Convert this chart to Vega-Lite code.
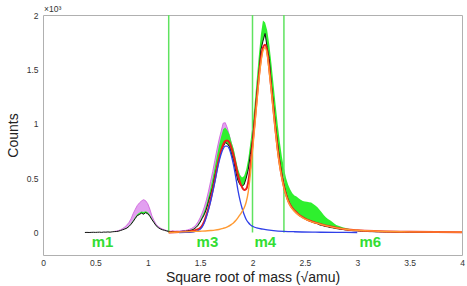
{
  "$schema": "https://vega.github.io/schema/vega-lite/v6.json",
  "autosize": {"type": "none"},
  "width": 419,
  "height": 240,
  "padding": {"left": 43, "top": 15, "right": 5, "bottom": 31},
  "background": "white",
  "config": {
    "view": {"stroke": "#b0b0b0", "strokeWidth": 1},
    "font": "Liberation Sans",
    "axis": {"grid": false, "domain": false, "labelFont": "Liberation Sans", "labelFontSize": 8.5, "labelColor": "#333", "tickColor": "#666666", "titleFont": "Liberation Sans", "titleFontWeight": "normal", "titleFontSize": 14, "titleColor": "#222", "labelOverlap": false, "labelFlush": false}
  },
  "resolve": {"axis": {"x": "independent", "y": "independent"}},
  "datasets": {
    "h": [
      {"x":0.40,"d":0},{"x":0.42,"d":1},{"x":0.44,"d":0},{"x":0.46,"d":1},{"x":0.48,"d":2},{"x":0.50,"d":1},{"x":0.52,"d":2},{"x":0.54,"d":3},{"x":0.56,"d":1},{"x":0.58,"d":4},{"x":0.60,"d":3},{"x":0.62,"d":5},{"x":0.64,"d":3},{"x":0.66,"d":6},
      {"x":0.68,"d":8,"g":9,"v":10},{"x":0.70,"d":9,"g":10,"v":13},{"x":0.72,"d":12,"g":13,"v":17},{"x":0.74,"d":18,"g":19,"v":25},{"x":0.76,"d":25,"g":27,"v":36},{"x":0.78,"d":32,"g":35,"v":50},{"x":0.80,"d":40,"g":44,"v":68},{"x":0.82,"d":55,"g":60,"v":92},{"x":0.84,"d":75,"g":82,"v":125},{"x":0.86,"d":100,"g":110,"v":172},{"x":0.88,"d":128,"g":140,"v":212},{"x":0.90,"d":155,"g":168,"v":248},{"x":0.92,"d":165,"g":182,"v":272},{"x":0.94,"d":178,"g":192,"v":290},{"x":0.96,"d":168,"g":188,"v":302},{"x":0.98,"d":182,"g":196,"v":292},{"x":1.00,"d":172,"g":186,"v":265},{"x":1.02,"d":150,"g":162,"v":215},{"x":1.04,"d":118,"g":127,"v":152},{"x":1.06,"d":90,"g":96,"v":110},{"x":1.08,"d":62,"g":67,"v":76},{"x":1.10,"d":45,"g":48,"v":56},{"x":1.12,"d":33,"g":35,"v":42},{"x":1.14,"d":25,"g":27,"v":32},{"x":1.16,"d":20,"g":21,"v":25},{"x":1.18,"d":14,"g":15,"v":18},{"x":1.20,"d":10,"g":11,"v":14},{"x":1.22,"d":8,"g":9,"v":12},{"x":1.24,"d":10,"g":11,"v":15},{"x":1.26,"d":7,"g":8,"v":12},{"x":1.28,"d":9,"g":10,"v":14},{"x":1.30,"d":8,"g":9,"v":13},{"x":1.32,"d":10,"g":11,"v":16},{"x":1.34,"d":12,"g":13,"v":18},{"x":1.36,"d":11,"g":13,"v":19},{"x":1.38,"d":15,"g":17,"v":24},{"x":1.40,"d":18,"g":21,"v":30},{"x":1.42,"d":22,"g":27,"v":38},{"x":1.44,"d":30,"g":36,"v":50},{"x":1.46,"d":45,"g":53,"v":70},{"x":1.48,"d":65,"g":76,"v":98},{"x":1.50,"d":95,"g":108,"v":135},{"x":1.52,"d":130,"g":150,"v":180},{"x":1.54,"d":165,"g":195,"v":235},{"x":1.56,"d":215,"g":255,"v":300},{"x":1.58,"d":285,"g":330,"v":380},{"x":1.60,"d":350,"g":410,"v":470},{"x":1.62,"d":420,"g":500,"v":560},{"x":1.64,"d":520,"g":600,"v":660},{"x":1.66,"d":600,"g":700,"v":760},{"x":1.68,"d":670,"g":800,"v":850},{"x":1.70,"d":745,"g":880,"v":930},{"x":1.72,"d":790,"g":950,"v":1005},{"x":1.74,"d":826,"g":965,"v":1010},{"x":1.76,"d":815,"g":940,"v":960},{"x":1.78,"d":790,"g":900,"v":890},{"x":1.80,"d":720,"g":830,"v":815},{"x":1.82,"d":660,"g":770,"v":745},{"x":1.84,"d":560,"g":680,"v":645},{"x":1.86,"d":480,"g":590,"v":565},{"x":1.88,"d":440,"g":530,"v":510},{"x":1.90,"d":425,"g":505,"v":490},{"x":1.92,"d":440,"g":520,"v":500},{"x":1.94,"d":500,"g":580,"v":545},{"x":1.96,"d":580,"g":680,"v":620},
      {"x":1.98,"d":720,"g":830},{"x":2.00,"d":850,"g":980},{"x":2.02,"d":1050,"g":1180},{"x":2.04,"d":1260,"g":1400},{"x":2.06,"d":1440,"g":1620},{"x":2.08,"d":1680,"g":1820},{"x":2.10,"d":1760,"g":1950},{"x":2.12,"d":1830,"g":1930},{"x":2.14,"d":1700,"g":1860},{"x":2.16,"d":1600,"g":1730},{"x":2.18,"d":1360,"g":1560},{"x":2.20,"d":1180,"g":1370},{"x":2.22,"d":980,"g":1180},{"x":2.24,"d":820,"g":1000},{"x":2.26,"d":660,"g":840},{"x":2.28,"d":540,"g":700},{"x":2.30,"d":440,"g":590},{"x":2.32,"d":360,"g":500},{"x":2.34,"d":300,"g":440},{"x":2.36,"d":255,"g":395},{"x":2.38,"d":225,"g":360},{"x":2.40,"d":195,"g":340},{"x":2.42,"d":180,"g":330},{"x":2.44,"d":160,"g":315},{"x":2.46,"d":148,"g":300},{"x":2.48,"d":135,"g":290},{"x":2.50,"d":128,"g":285},{"x":2.52,"d":115,"g":282},{"x":2.54,"d":108,"g":278},{"x":2.56,"d":100,"g":275},{"x":2.58,"d":92,"g":262},{"x":2.60,"d":85,"g":248},{"x":2.62,"d":80,"g":232},{"x":2.64,"d":70,"g":210},{"x":2.66,"d":66,"g":185},{"x":2.68,"d":60,"g":160},{"x":2.70,"d":55,"g":140},{"x":2.72,"d":52,"g":125},{"x":2.74,"d":46,"g":112},{"x":2.76,"d":44,"g":98},{"x":2.78,"d":40,"g":82},{"x":2.80,"d":36,"g":70},{"x":2.82,"d":33,"g":62},{"x":2.84,"d":30,"g":55},{"x":2.86,"d":28,"g":48},{"x":2.88,"d":25,"g":43},{"x":2.90,"d":23,"g":38},{"x":2.92,"d":21,"g":34},{"x":2.94,"d":19,"g":30},{"x":2.96,"d":17,"g":27},{"x":2.98,"d":16,"g":24},{"x":3.00,"d":15,"g":21},{"x":3.02,"d":13,"g":19},{"x":3.04,"d":12,"g":17},{"x":3.06,"d":11,"g":15},{"x":3.08,"d":10,"g":14},{"x":3.10,"d":9,"g":13},{"x":3.12,"d":8,"g":12},{"x":3.14,"d":8,"g":11},{"x":3.16,"d":7,"g":10},{"x":3.18,"d":6,"g":9},{"x":3.20,"d":6,"g":8},{"x":3.24,"d":5,"g":7},{"x":3.28,"d":4,"g":6},{"x":3.32,"d":4,"g":5},{"x":3.36,"d":3,"g":4},{"x":3.40,"d":3,"g":4},{"x":3.45,"d":2,"g":3},{"x":3.50,"d":2,"g":3},
      {"x":3.60,"d":1},{"x":3.70,"d":1},{"x":3.80,"d":0},{"x":3.90,"d":0},{"x":4.00,"d":0}
    ],
    "blue": [
      {"x":1.30,"y":0},{"x":1.36,"y":1},{"x":1.40,"y":2},{"x":1.44,"y":6},{"x":1.48,"y":18},{"x":1.50,"y":30},{"x":1.52,"y":52},{"x":1.54,"y":90},{"x":1.56,"y":145},{"x":1.58,"y":210},{"x":1.60,"y":285},{"x":1.62,"y":370},{"x":1.64,"y":460},{"x":1.66,"y":560},{"x":1.68,"y":650},{"x":1.70,"y":720},{"x":1.72,"y":770},{"x":1.74,"y":795},{"x":1.76,"y":795},{"x":1.78,"y":765},{"x":1.80,"y":700},{"x":1.82,"y":615},{"x":1.84,"y":510},{"x":1.86,"y":395},{"x":1.88,"y":300},{"x":1.90,"y":225},{"x":1.92,"y":165},{"x":1.94,"y":120},{"x":1.96,"y":92},{"x":1.98,"y":70},{"x":2.00,"y":57},{"x":2.04,"y":42},{"x":2.10,"y":30},{"x":2.20,"y":18},{"x":2.30,"y":11},{"x":2.40,"y":7},{"x":2.60,"y":3},{"x":2.80,"y":1},{"x":3.00,"y":0}
    ],
    "orange": [
      {"x":1.20,"y":0},{"x":1.25,"y":2},{"x":1.30,"y":4},{"x":1.35,"y":6},{"x":1.40,"y":8},{"x":1.45,"y":10},{"x":1.50,"y":12},{"x":1.55,"y":14},{"x":1.60,"y":18},{"x":1.64,"y":22},{"x":1.68,"y":28},{"x":1.72,"y":38},{"x":1.76,"y":52},{"x":1.80,"y":75},{"x":1.82,"y":90},{"x":1.84,"y":110},{"x":1.86,"y":135},{"x":1.88,"y":162},{"x":1.90,"y":192},{"x":1.92,"y":225},{"x":1.94,"y":280},{"x":1.96,"y":375},{"x":1.98,"y":540},{"x":2.00,"y":750},{"x":2.02,"y":960},{"x":2.04,"y":1180},{"x":2.06,"y":1390},{"x":2.08,"y":1560},{"x":2.10,"y":1670},{"x":2.12,"y":1700},{"x":2.14,"y":1640},{"x":2.16,"y":1480},{"x":2.18,"y":1300},{"x":2.20,"y":1110},{"x":2.22,"y":920},{"x":2.24,"y":750},{"x":2.26,"y":610},{"x":2.28,"y":500},{"x":2.30,"y":410},{"x":2.32,"y":340},{"x":2.34,"y":285},{"x":2.36,"y":245},{"x":2.40,"y":195},{"x":2.44,"y":160},{"x":2.48,"y":135},{"x":2.52,"y":115},{"x":2.56,"y":100},{"x":2.60,"y":88},{"x":2.66,"y":72},{"x":2.72,"y":58},{"x":2.80,"y":42},{"x":2.90,"y":28},{"x":3.00,"y":20},{"x":3.20,"y":12},{"x":3.50,"y":6},{"x":4.00,"y":3}
    ],
    "red": [
      {"x":1.20,"y":0},{"x":1.30,"y":4},{"x":1.40,"y":10},{"x":1.44,"y":16},{"x":1.48,"y":30},{"x":1.50,"y":42},{"x":1.52,"y":65},{"x":1.54,"y":104},{"x":1.56,"y":160},{"x":1.58,"y":226},{"x":1.60,"y":303},{"x":1.62,"y":390},{"x":1.64,"y":482},{"x":1.66,"y":585},{"x":1.68,"y":678},{"x":1.70,"y":752},{"x":1.72,"y":808},{"x":1.74,"y":840},{"x":1.76,"y":847},{"x":1.78,"y":827},{"x":1.80,"y":775},{"x":1.82,"y":705},{"x":1.84,"y":620},{"x":1.86,"y":530},{"x":1.88,"y":462},{"x":1.90,"y":417},{"x":1.92,"y":390},{"x":1.94,"y":400},{"x":1.96,"y":467},{"x":1.98,"y":610},{"x":2.00,"y":807},{"x":2.02,"y":1010},{"x":2.04,"y":1222},{"x":2.06,"y":1427},{"x":2.08,"y":1595},{"x":2.10,"y":1700},{"x":2.12,"y":1727},{"x":2.14,"y":1665},{"x":2.16,"y":1503},{"x":2.18,"y":1321},{"x":2.20,"y":1128},{"x":2.22,"y":937},{"x":2.24,"y":766},{"x":2.26,"y":624},{"x":2.28,"y":513},{"x":2.30,"y":421},{"x":2.32,"y":350},{"x":2.34,"y":294},{"x":2.36,"y":253},{"x":2.40,"y":202},{"x":2.44,"y":166},{"x":2.48,"y":140},{"x":2.52,"y":119},{"x":2.56,"y":103},{"x":2.60,"y":91},{"x":2.66,"y":74},{"x":2.72,"y":59},{"x":2.80,"y":43},{"x":2.90,"y":28},{"x":3.00,"y":20},{"x":3.20,"y":12},{"x":3.50,"y":6},{"x":4.00,"y":3}
    ],
    "cuts": [{"x":1.2},{"x":2.0},{"x":2.3}],
    "labels": [{"x":0.568,"t":"m1"},{"x":1.570,"t":"m3"},{"x":2.122,"t":"m4"},{"x":3.125,"t":"m6"}],
    "mult": [{"x":0,"t":"×10³"}]
  },
  "layer": [
    {
      "data": {"name": "h"},
      "transform": [{"filter": "isValid(datum.v)"}],
      "mark": {"type": "area", "color": "#e2a0f0", "opacity": 1},
      "encoding": {
        "x": {"field": "x", "type": "quantitative", "scale": {"domain": [0, 4], "nice": false, "zero": false},
          "axis": {"orient": "bottom", "title": "Square root of mass (√amu)", "values": [0,0.5,1,1.5,2,2.5,3,3.5,4], "format": "~g",
            "ticks": false, "labelPadding": 3, "titleX": 209.5, "titleY": 26, "titleAlign": "center", "titleBaseline": "alphabetic"}},
        "y": {"field": "d", "type": "quantitative", "scale": {"domain": [-207, 2000], "nice": false, "zero": false},
          "axis": {"orient": "left", "title": "Counts", "values": [0,500,1000,1500,2000],
            "labelExpr": "format(datum.value/1000, '~g')", "ticks": false,
            "labelPadding": 5, "titleX": -30, "titleY": 120, "titleAlign": "center", "titleBaseline": "middle", "titleAngle": -90}},
        "y2": {"field": "v"}
      }
    },
    {
      "data": {"name": "h"},
      "transform": [{"filter": "isValid(datum.v)"}],
      "mark": {"type": "line", "color": "#cc5ad9", "strokeWidth": 0.8},
      "encoding": {
        "x": {"field": "x", "type": "quantitative", "scale": {"domain": [0, 4]}, "axis": null},
        "y": {"field": "v", "type": "quantitative", "scale": {"domain": [-207, 2000]}, "axis": null}
      }
    },
    {
      "data": {"name": "h"},
      "transform": [{"filter": "isValid(datum.g)"}],
      "mark": {"type": "area", "color": "#2ef02e", "opacity": 1},
      "encoding": {
        "x": {"field": "x", "type": "quantitative", "scale": {"domain": [0, 4]}, "axis": null},
        "y": {"field": "d", "type": "quantitative", "scale": {"domain": [-207, 2000]}, "axis": null},
        "y2": {"field": "g"}
      }
    },
    {
      "mark": {"type": "rule", "color": "#808080", "strokeWidth": 1},
      "encoding": {"y": {"datum": 0, "type": "quantitative", "scale": {"domain": [-207, 2000]}, "axis": null}}
    },
    {
      "data": {"name": "cuts"},
      "mark": {"type": "rule", "color": "#5fe35f", "strokeWidth": 1.5},
      "encoding": {
        "x": {"field": "x", "type": "quantitative", "scale": {"domain": [0, 4]}, "axis": null},
        "y": {"datum": 0, "type": "quantitative", "scale": {"domain": [-207, 2000]}, "axis": null},
        "y2": {"datum": 2000}
      }
    },
    {
      "data": {"name": "h"},
      "mark": {"type": "line", "color": "#111111", "strokeWidth": 1},
      "encoding": {
        "x": {"field": "x", "type": "quantitative", "scale": {"domain": [0, 4]}, "axis": null},
        "y": {"field": "d", "type": "quantitative", "scale": {"domain": [-207, 2000]}, "axis": null}
      }
    },
    {
      "data": {"name": "red"},
      "mark": {"type": "line", "color": "#ee1c1c", "strokeWidth": 2, "interpolate": "monotone"},
      "encoding": {
        "x": {"field": "x", "type": "quantitative", "scale": {"domain": [0, 4]}, "axis": null},
        "y": {"field": "y", "type": "quantitative", "scale": {"domain": [-207, 2000]}, "axis": null}
      }
    },
    {
      "data": {"name": "blue"},
      "mark": {"type": "line", "color": "#3040e8", "strokeWidth": 1.3, "interpolate": "monotone"},
      "encoding": {
        "x": {"field": "x", "type": "quantitative", "scale": {"domain": [0, 4]}, "axis": null},
        "y": {"field": "y", "type": "quantitative", "scale": {"domain": [-207, 2000]}, "axis": null}
      }
    },
    {
      "data": {"name": "orange"},
      "mark": {"type": "line", "color": "#ff9a33", "strokeWidth": 1.4, "interpolate": "monotone"},
      "encoding": {
        "x": {"field": "x", "type": "quantitative", "scale": {"domain": [0, 4]}, "axis": null},
        "y": {"field": "y", "type": "quantitative", "scale": {"domain": [-207, 2000]}, "axis": null}
      }
    },
    {
      "data": {"name": "labels"},
      "mark": {"type": "text", "color": "#33dd33", "fontSize": 15, "fontWeight": "bold", "font": "Liberation Sans", "align": "center", "baseline": "middle"},
      "encoding": {
        "x": {"field": "x", "type": "quantitative", "scale": {"domain": [0, 4]}, "axis": null},
        "y": {"datum": -87, "type": "quantitative", "scale": {"domain": [-207, 2000]}, "axis": null},
        "text": {"field": "t"}
      }
    },
    {
      "data": {"name": "mult"},
      "mark": {"type": "text", "color": "#333", "fontSize": 8.5, "font": "Liberation Sans", "align": "left", "baseline": "bottom", "dx": 1, "dy": -1},
      "encoding": {
        "x": {"field": "x", "type": "quantitative", "scale": {"domain": [0, 4]}, "axis": null},
        "y": {"datum": 2000, "type": "quantitative", "scale": {"domain": [-207, 2000]}, "axis": null},
        "text": {"field": "t"}
      }
    }
  ]
}
